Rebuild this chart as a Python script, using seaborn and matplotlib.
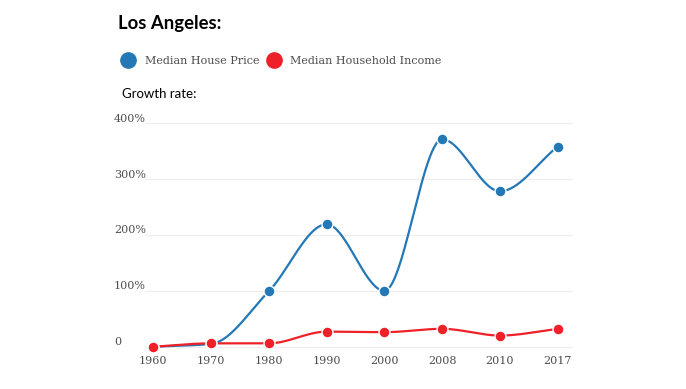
import numpy as np
import pandas as pd
import matplotlib
matplotlib.use("Agg")
import matplotlib.pyplot as plt
import matplotlib.transforms as mtransforms
from matplotlib.lines import Line2D
import seaborn as sns

# data (growth rate, %)
years = ["1960", "1970", "1980", "1990", "2000", "2008", "2010", "2017"]
house_price = [0, 5, 99, 219, 100, 371, 278, 358]
household_income = [0, 6, 6, 27, 26, 32, 20, 32]
y_ticks = [0, 100, 200, 300, 400]
y_tick_labels = ["0", "100%", "200%", "300%", "400%"]

BLUE = "#2378b5"
RED = "#ee2129"
TEXT = "#4d4d4d"


def monotone_curve(x, y, n=40):
    # monotone cubic (Fritsch-Carlson) so the line looks like d3's curveMonotoneX
    x = np.asarray(x, float)
    y = np.asarray(y, float)
    h = np.diff(x)
    d = np.diff(y) / h
    m = np.zeros_like(y)
    m[0], m[-1] = d[0], d[-1]
    for k in range(1, len(y) - 1):
        if d[k - 1] * d[k] <= 0:
            m[k] = 0
        else:
            w1 = 2 * h[k] + h[k - 1]
            w2 = h[k] + 2 * h[k - 1]
            m[k] = (w1 + w2) / (w1 / d[k - 1] + w2 / d[k])
    xs, ys = [], []
    for k in range(len(h)):
        t = np.linspace(0, 1, n, endpoint=(k == len(h) - 1))
        h00 = 2 * t**3 - 3 * t**2 + 1
        h10 = t**3 - 2 * t**2 + t
        h01 = -2 * t**3 + 3 * t**2
        h11 = t**3 - t**2
        xs.append(x[k] + t * h[k])
        ys.append(h00 * y[k] + h10 * h[k] * m[k] + h01 * y[k + 1] + h11 * h[k] * m[k + 1])
    return np.concatenate(xs), np.concatenate(ys)


sns.set_theme(style="white")

fig = plt.figure(figsize=(6.86, 3.89), dpi=100)
ax = fig.add_axes([0.2114, 0.0943, 0.6236, 0.6037])

pos = np.arange(len(years))
series = [("Median House Price", house_price, BLUE),
          ("Median Household Income", household_income, RED)]

for name, vals, col in series:
    cx, cy = monotone_curve(pos, vals)
    sns.lineplot(x=cx, y=cy, ax=ax, color=col, linewidth=1.6, sort=False,
                 estimator=None, zorder=3)
for name, vals, col in series:
    pts = pd.DataFrame({"pos": pos, "val": vals})
    sns.scatterplot(data=pts, x="pos", y="val", ax=ax, color=col, s=62,
                    edgecolor="white", linewidth=1.0, zorder=4, clip_on=False)

ax.set_xlim(-0.14, 7.26)
ax.set_ylim(-10, 410)
for y in y_ticks:
    ax.axhline(y, color="#efefef", linewidth=0.9, zorder=1)

ax.set_xticks(pos)
ax.set_xticklabels(years, fontfamily="DejaVu Serif", fontsize=8, color=TEXT)
ax.tick_params(axis="x", length=0, pad=3)
ax.set_yticks([])
ax.set_xlabel("")
ax.set_ylabel("")
for s in ax.spines.values():
    s.set_visible(False)

trans = mtransforms.blended_transform_factory(fig.transFigure, ax.transData)
for y, lab in zip(y_ticks, y_tick_labels):
    ax.text(114 / 686, y + 8, lab, transform=trans, ha="left", va="center",
            fontfamily="DejaVu Serif", fontsize=8, color=TEXT)

fig.text(118 / 686, 1 - 23 / 389, "Los Angeles:", fontfamily="Lato",
         fontweight="bold", fontsize=13.3, color="black", ha="left", va="center")
fig.text(122 / 686, 1 - 94 / 389, "Growth rate:", fontfamily="Lato",
         fontsize=9.5, color="black", ha="left", va="center")

handles = [Line2D([], [], marker="o", linestyle="", markersize=11,
                  color=col, label=name) for name, _, col in series]
leg = fig.legend(handles=handles, loc="center left",
                 bbox_to_anchor=(116 / 686, 1 - 61 / 389), ncol=2, frameon=False,
                 handletextpad=0.8, columnspacing=0.6, borderaxespad=0,
                 handlelength=1.4,
                 prop={"family": "DejaVu Serif", "size": 8})
for t in leg.get_texts():
    t.set_color(TEXT)

fig.savefig("out.png", dpi=100)
